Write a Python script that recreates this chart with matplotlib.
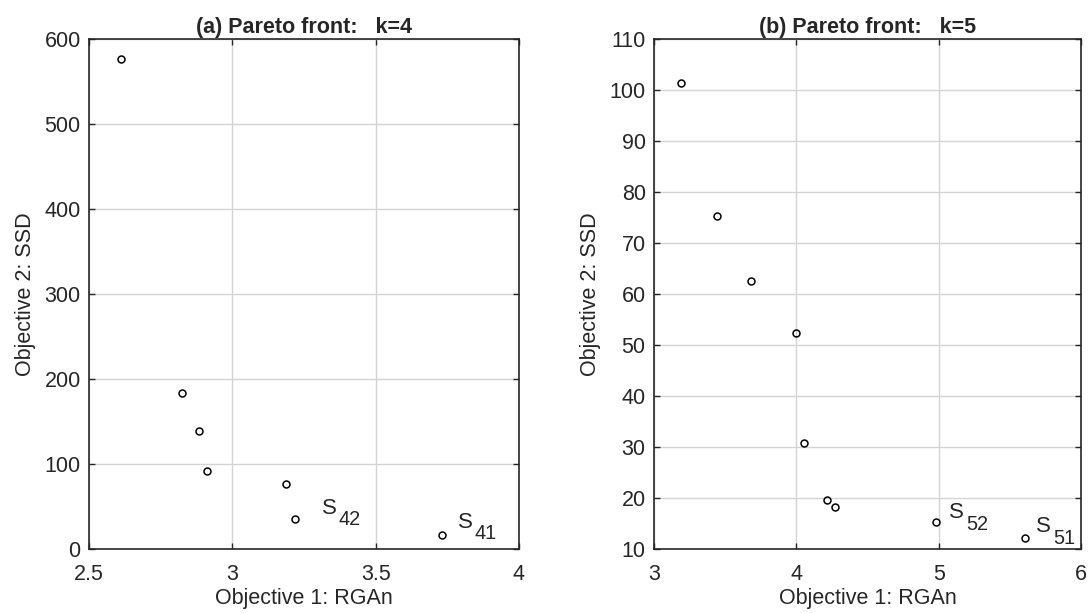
import matplotlib
matplotlib.use("Agg")
import matplotlib.pyplot as plt

plt.rcParams["font.family"] = ["Liberation Sans", "DejaVu Sans"]

# Pareto front, k = 4
rgan_k4 = [2.612, 2.823, 2.883, 2.913, 3.188, 3.220, 3.730]
ssd_k4 = [577, 183, 139, 92, 76, 35, 17]
labels_k4 = ["", "", "", "", "", "42", "41"]

# Pareto front, k = 5
rgan_k5 = [3.188, 3.442, 3.681, 3.995, 4.056, 4.212, 4.272, 4.981, 5.607]
ssd_k5 = [101.4, 75.3, 62.5, 52.4, 30.7, 19.6, 18.2, 15.2, 12.2]
labels_k5 = ["", "", "", "", "", "", "", "52", "51"]

titles = ["(a) Pareto front:   k=4", "(b) Pareto front:   k=5"]
xticks = [[2.5, 3, 3.5, 4], [3, 4, 5, 6]]
yticks = [[0, 100, 200, 300, 400, 500, 600],
          [10, 20, 30, 40, 50, 60, 70, 80, 90, 100, 110]]
xlims = [(2.5, 4), (3, 6)]
ylims = [(0, 600), (10, 110)]

# offsets (points) of the solution tags from their markers
tag_offsets = {"42": (19, 8), "41": (12, 9), "52": (9.5, 7), "51": (8, 8)}

fig = plt.figure(figsize=(10.89, 6.13), dpi=100)
ax1 = fig.add_axes([89 / 1089, 1 - 549 / 613, 430 / 1089, 510 / 613])
ax2 = fig.add_axes([654 / 1089, 1 - 549 / 613, 427 / 1089, 510 / 613])

fs = 15.5
ink = "#262626"
data = [(ax1, rgan_k4, ssd_k4, labels_k4), (ax2, rgan_k5, ssd_k5, labels_k5)]
for i, (ax, xs, ys, labs) in enumerate(data):
    ax.plot(xs, ys, linestyle="none", marker="o", markersize=5,
            markerfacecolor="none", markeredgecolor="black",
            markeredgewidth=1.1, zorder=3)
    for x, y, lab in zip(xs, ys, labs):
        if not lab:
            continue
        dx, dy = tag_offsets[lab]
        ax.annotate("S", (x, y), xytext=(dx, dy), textcoords="offset points",
                    fontsize=fs + 0.5, ha="left", va="center", color=ink)
        ax.annotate(lab, (x, y), xytext=(dx + 12, dy - 8.2),
                    textcoords="offset points", fontsize=fs - 1.2,
                    ha="left", va="center", color=ink)
    ax.set_xlim(*xlims[i])
    ax.set_ylim(*ylims[i])
    ax.set_xticks(xticks[i])
    ax.set_yticks(yticks[i])
    ax.set_xticklabels([f"{t:g}" for t in xticks[i]])
    ax.set_yticklabels([f"{t:g}" for t in yticks[i]])
    ax.grid(True, color="#d4d4d4", linewidth=1.0)
    ax.set_axisbelow(True)
    ax.tick_params(direction="in", top=True, right=True, length=4,
                   width=1.0, labelsize=fs, colors=ink)
    ax.tick_params(axis="x", pad=11)
    ax.tick_params(axis="y", pad=6)
    for sp in ax.spines.values():
        sp.set_linewidth(1.2)
        sp.set_color(ink)
    ax.set_title(titles[i], fontsize=fs, fontweight="bold", color=ink, pad=4)
    ax.set_xlabel("Objective 1: RGAn", fontsize=fs, color=ink, labelpad=2)
    ax.set_ylabel("Objective 2: SSD", fontsize=fs, color=ink, labelpad=6)

fig.savefig("out.png", dpi=100)
